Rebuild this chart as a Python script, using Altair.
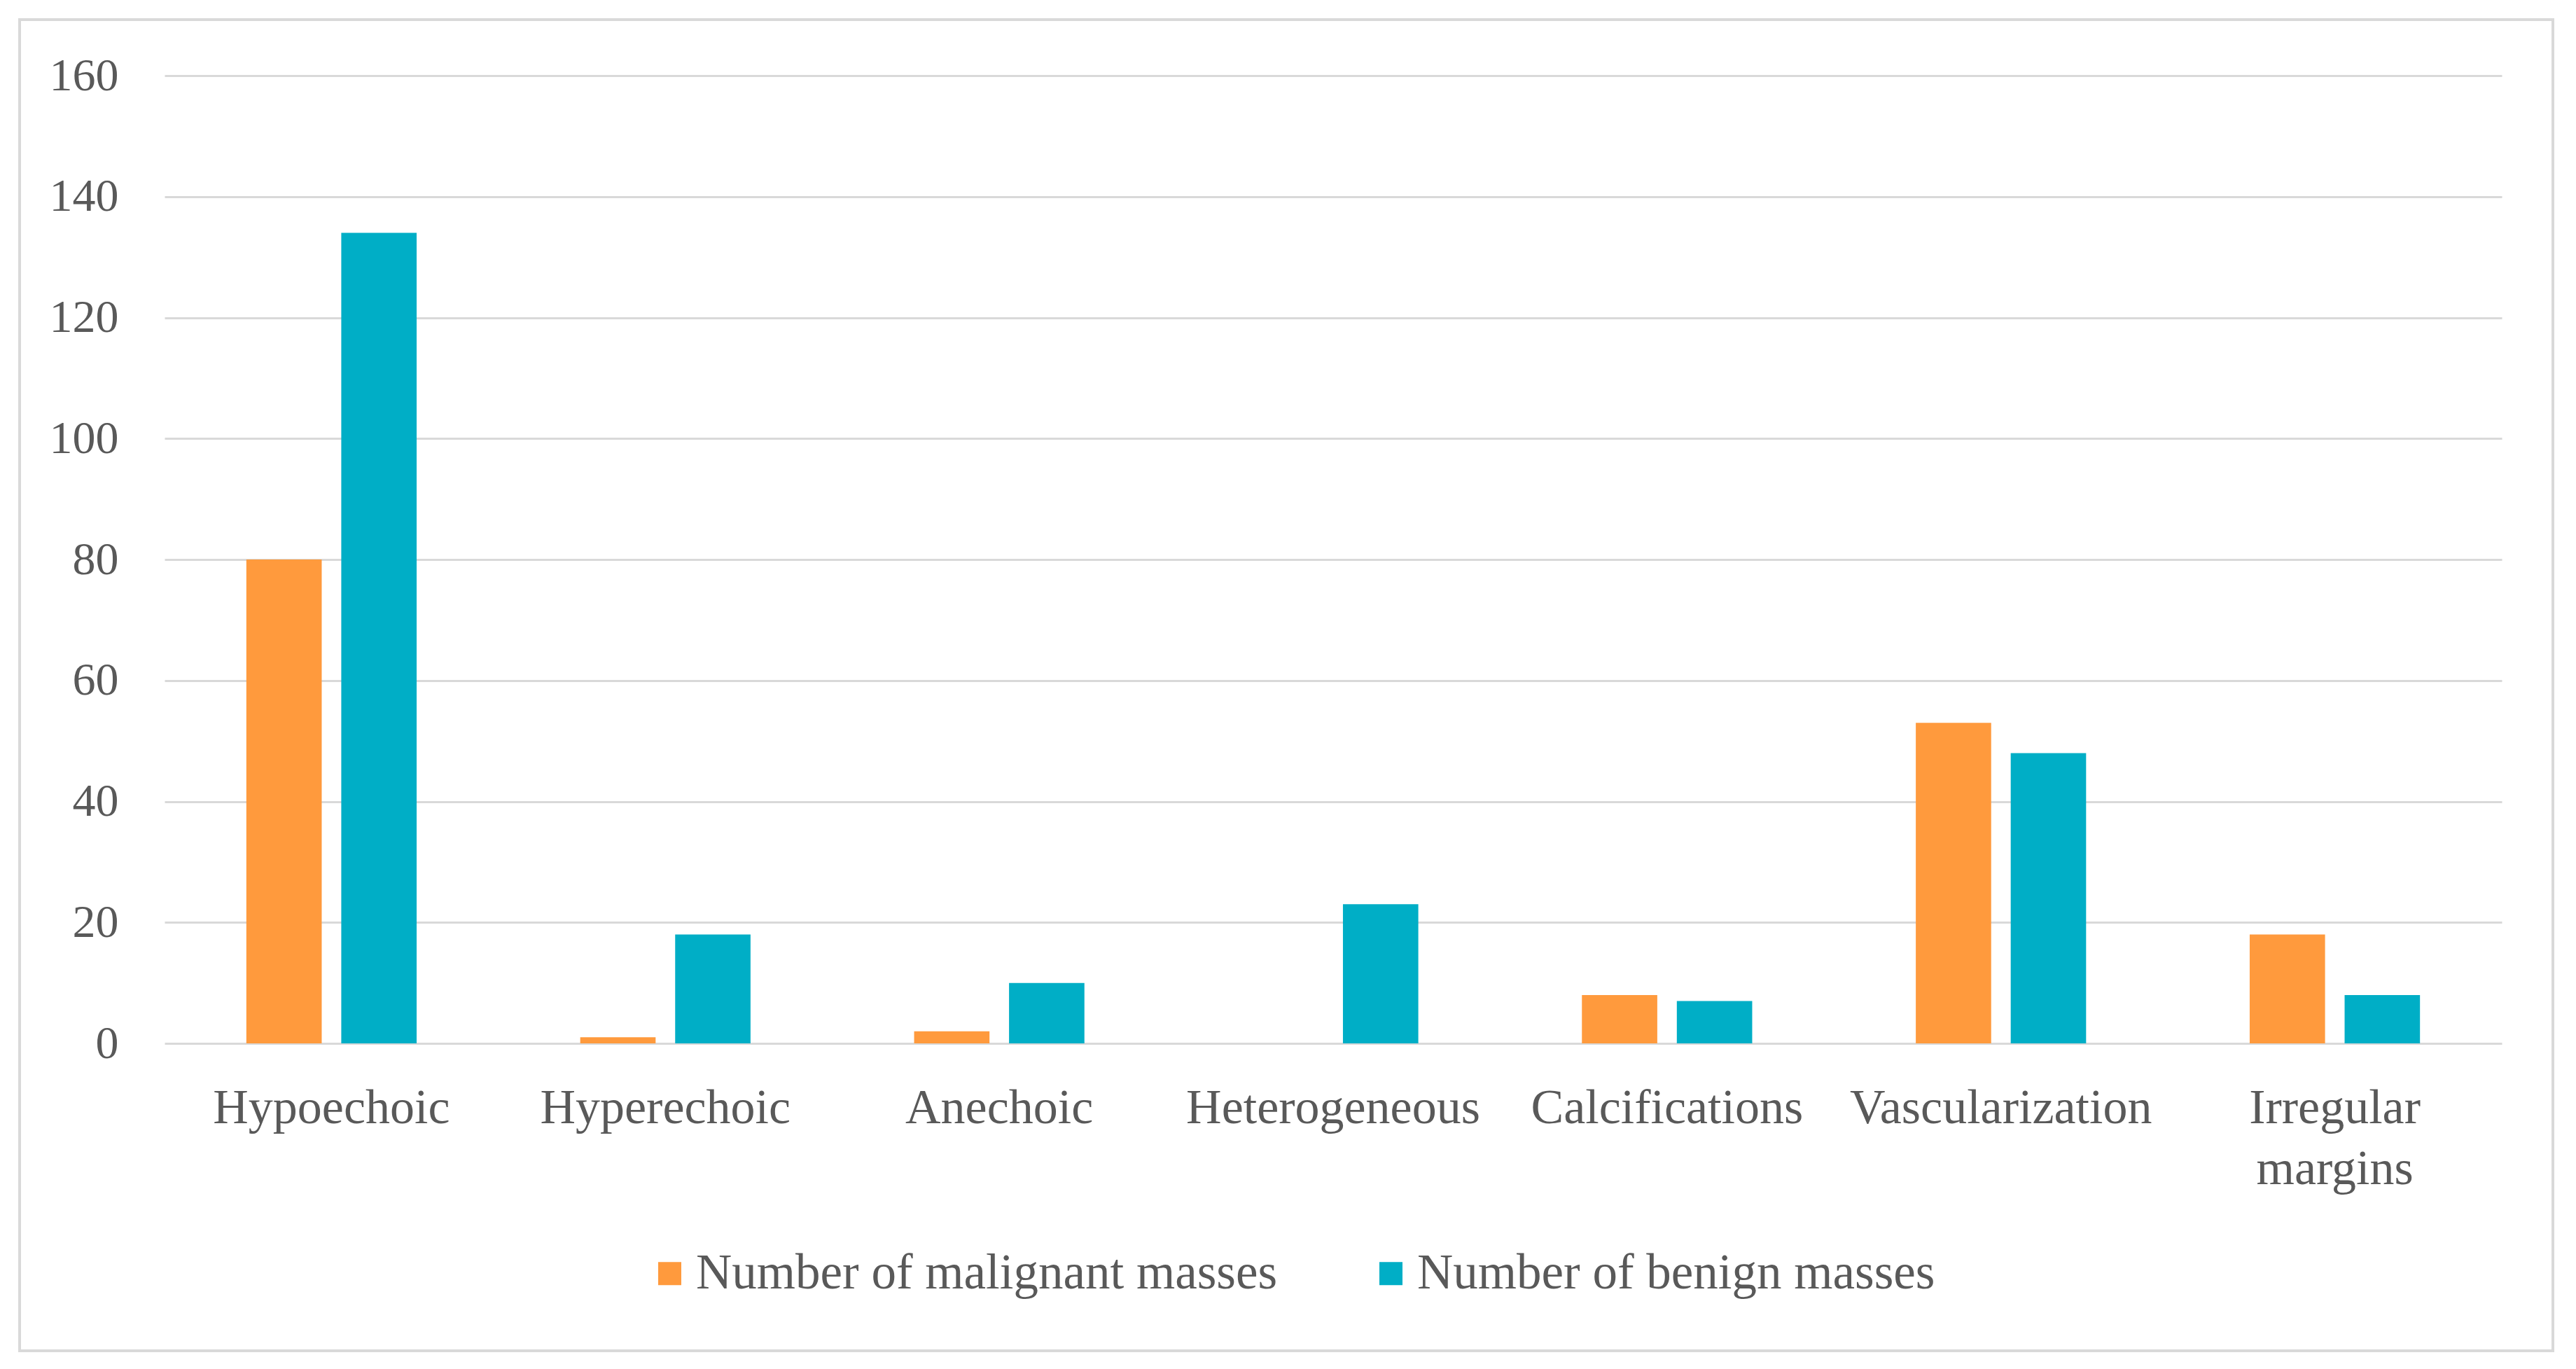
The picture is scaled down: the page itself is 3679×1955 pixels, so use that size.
import altair as alt
import pandas as pd

categories = ["Hypoechoic", "Hyperechoic", "Anechoic", "Heterogeneous",
              "Calcifications", "Vascularization", "Irregular margins"]
series = ["Number of malignant masses", "Number of benign masses"]
malignant = [80, 1, 2, 0, 8, 53, 18]
benign = [134, 18, 10, 23, 7, 48, 8]
y_ticks = [0, 20, 40, 60, 80, 100, 120, 140, 160]

rows = []
for c, m, b in zip(categories, malignant, benign):
    rows.append({"category": c, "series": series[0], "value": m})
    rows.append({"category": c, "series": series[1], "value": b})
df = pd.DataFrame(rows)

FONT = "Liberation Serif"
TXT = "#595959"

bars = alt.Chart(df).mark_bar().encode(
    x=alt.X("category:N", sort=categories,
            scale=alt.Scale(paddingInner=0.49, paddingOuter=0.245),
            axis=alt.Axis(title=None, labelAngle=0, ticks=False, domain=False,
                          labelFont=FONT, labelFontSize=70, labelColor=TXT,
                          labelPadding=58, labelLineHeight=87, labelLimit=2000,
                          labelExpr="datum.label == 'Irregular margins' ? ['Irregular', 'margins'] : datum.label")),
    xOffset=alt.XOffset("series:N", sort=series,
                        scale=alt.Scale(paddingInner=0.206, paddingOuter=0)),
    y=alt.Y("value:Q", scale=alt.Scale(domain=[0, 160], nice=False),
            axis=alt.Axis(title=None, values=y_ticks, ticks=False, domain=False,
                          labelFont=FONT, labelFontSize=66, labelColor=TXT,
                          labelPadding=66, gridColor="#D9D9D9", gridWidth=3)),
    color=alt.Color("series:N", sort=series,
                    scale=alt.Scale(domain=series, range=["#FF9A3D", "#00AEC6"]),
                    legend=alt.Legend(title=None, orient="none", legendX=686, legendY=1675,
                                      direction="horizontal", symbolType="square",
                                      symbolSize=1089, symbolStrokeWidth=0,
                                      labelFont=FONT, labelFontSize=71, labelColor=TXT,
                                      labelOffset=2, columnPadding=126, labelLimit=2000)),
)

border = alt.Chart(pd.DataFrame({"a": [0]})).mark_rect(
    filled=False, stroke="#D9D9D9", strokeWidth=4, clip=False
).encode(x=alt.value(-207), x2=alt.value(3411), y=alt.value(-80), y2=alt.value(1821))

chart = alt.layer(border, bars).properties(
    width=3338, height=1382,
    padding={"left": 227, "top": 100, "right": 90, "bottom": 455},
    autosize=alt.AutoSizeParams(type="none"),
    background="white",
).configure_view(stroke=None)

chart.save("out.html", embed_options={"renderer": "svg", "actions": False})
